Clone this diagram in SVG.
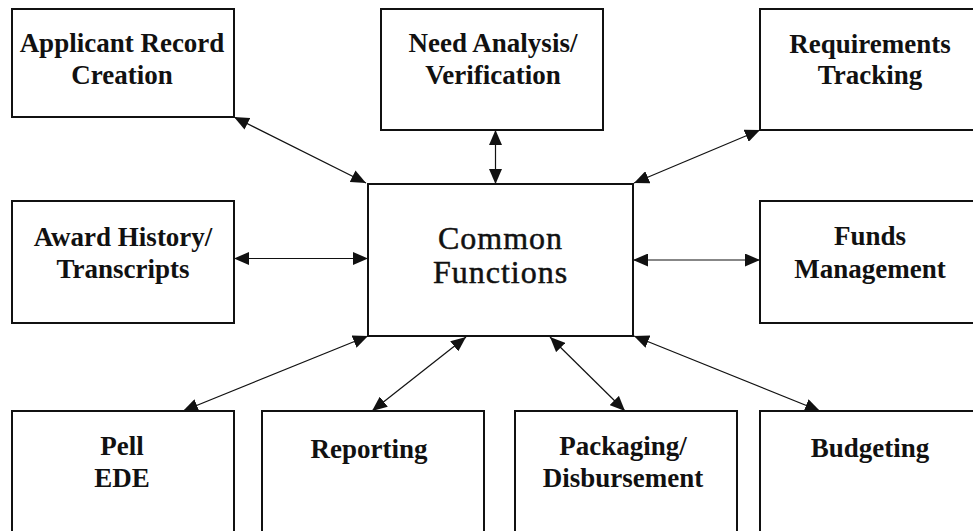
<svg xmlns="http://www.w3.org/2000/svg" width="973" height="531" viewBox="0 0 973 531">
  <style>
    .box { fill: #ffffff; stroke: #111111; stroke-width: 2; }
    .lbl { font-family: "Liberation Serif", "Times New Roman", serif; font-weight: bold; font-size: 27px; fill: #111111; text-anchor: middle; }
    .hub { font-family: "Liberation Serif", "Times New Roman", serif; font-size: 32px; letter-spacing: 1px; fill: #111111; stroke: #111111; stroke-width: 0.5; text-anchor: middle; }
    .link { stroke: #111111; stroke-width: 1.2; fill: none; marker-start: url(#head); marker-end: url(#head); }
  </style>
  <defs>
    <marker id="head" viewBox="0 0 15 13" refX="15" refY="6.5" markerWidth="15" markerHeight="13" markerUnits="userSpaceOnUse" orient="auto-start-reverse">
      <path d="M0,0 L15,6.5 L0,13 z" fill="#111111"/>
    </marker>
  </defs>
  <rect width="973" height="531" fill="#ffffff"/>

  <!-- connectors: every module talks to the common functions both ways -->
  <g id="connectors">
    <line class="link" x1="234" y1="117" x2="366" y2="183"/>
    <line class="link" x1="495.5" y1="130" x2="495.5" y2="184"/>
    <line class="link" x1="760" y1="130" x2="634" y2="183"/>
    <line class="link" x1="234" y1="258.5" x2="368" y2="258.5"/>
    <line class="link" x1="633" y1="260" x2="760" y2="260"/>
    <line class="link" x1="183" y1="411" x2="368" y2="336"/>
    <line class="link" x1="372" y1="411" x2="466" y2="337"/>
    <line class="link" x1="625" y1="411" x2="550" y2="337"/>
    <line class="link" x1="820" y1="411" x2="634" y2="336"/>
  </g>

  <g id="node-applicant">
    <rect class="box" x="12" y="9" width="222" height="108"/>
    <text class="lbl" x="122" y="52">Applicant Record</text>
    <text class="lbl" x="122" y="84">Creation</text>
  </g>
  <g id="node-need">
    <rect class="box" x="381" y="9" width="222" height="121"/>
    <text class="lbl" x="493" y="52">Need Analysis/</text>
    <text class="lbl" x="493" y="84">Verification</text>
  </g>
  <g id="node-requirements">
    <rect class="box" x="760" y="9" width="222" height="121"/>
    <text class="lbl" x="870" y="53">Requirements</text>
    <text class="lbl" x="870" y="84">Tracking</text>
  </g>
  <g id="node-award">
    <rect class="box" x="12" y="201" width="222" height="122"/>
    <text class="lbl" x="123" y="246">Award History/</text>
    <text class="lbl" x="123" y="278">Transcripts</text>
  </g>
  <g id="node-common">
    <rect class="box" x="368" y="184" width="265" height="152"/>
    <text class="hub" x="500.5" y="249">Common</text>
    <text class="hub" x="500.5" y="283">Functions</text>
  </g>
  <g id="node-funds">
    <rect class="box" x="760" y="201" width="222" height="122"/>
    <text class="lbl" x="870" y="245">Funds</text>
    <text class="lbl" x="870" y="278">Management</text>
  </g>
  <g id="node-pell">
    <rect class="box" x="12" y="411" width="222" height="130"/>
    <text class="lbl" x="122" y="455">Pell</text>
    <text class="lbl" x="122" y="487">EDE</text>
  </g>
  <g id="node-reporting">
    <rect class="box" x="262" y="411" width="222" height="130"/>
    <text class="lbl" x="369" y="458">Reporting</text>
  </g>
  <g id="node-packaging">
    <rect class="box" x="515" y="411" width="222" height="130"/>
    <text class="lbl" x="623" y="455">Packaging/</text>
    <text class="lbl" x="623" y="487">Disbursement</text>
  </g>
  <g id="node-budgeting">
    <rect class="box" x="760" y="411" width="222" height="130"/>
    <text class="lbl" x="870" y="457">Budgeting</text>
  </g>
</svg>
